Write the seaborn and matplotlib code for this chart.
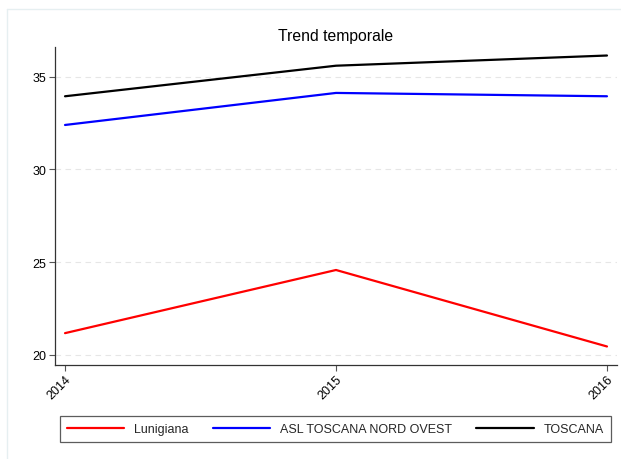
import matplotlib
matplotlib.use("Agg")
import matplotlib.pyplot as plt
from matplotlib.lines import Line2D
import seaborn as sns
import pandas as pd

years = [2014, 2015, 2016]
lunigiana = [21.16, 24.57, 20.44]
asl_nord_ovest = [32.40, 34.13, 33.95]
toscana = [33.95, 35.60, 36.15]
series_names = ["Lunigiana", "ASL TOSCANA NORD OVEST", "TOSCANA"]
series_colors = ["#ff0000", "#0000ff", "#000000"]
y_ticks = [20, 25, 30, 35]
title = "Trend temporale"

df = pd.DataFrame({
    "anno": years * 3,
    "valore": lunigiana + asl_nord_ovest + toscana,
    "serie": [series_names[0]] * 3 + [series_names[1]] * 3 + [series_names[2]] * 3,
})

sns.set_theme(style="white")
plt.rcParams["font.family"] = ["Liberation Sans", "DejaVu Sans"]

fig = plt.figure(figsize=(6.21, 4.60), dpi=100)
fig.patch.set_facecolor("white")
# light outer frame (left and top edges only visible in the reference)
fx, fy = 7 / 621, 1 - 10 / 460
fig.lines.append(Line2D([fx, fx], [0, fy], transform=fig.transFigure,
                        color="#e6eff1", linewidth=1.0, zorder=0))
fig.lines.append(Line2D([fx, 1], [fy, fy], transform=fig.transFigure,
                        color="#e6eff1", linewidth=1.0, zorder=0))

ax = fig.add_axes([55 / 621, 1 - 366 / 460, (617 - 55) / 621, (366 - 48) / 460])

sns.lineplot(data=df, x="anno", y="valore", hue="serie", hue_order=series_names,
             palette=series_colors, linewidth=1.6, ax=ax, legend=True)

ax.set_xlim(2013.963, 2016.037)
ax.set_ylim(19.44, 36.61)
ax.set_xticks(years)
ax.set_xticklabels([str(y) for y in years], rotation=45, ha="right",
                   rotation_mode="anchor", fontsize=9)
ax.set_yticks(y_ticks)
ax.set_yticklabels([str(v) for v in y_ticks], fontsize=9)
ax.set_xlabel("")
ax.set_ylabel("")
ax.set_title(title, fontsize=11.3, pad=5, color="black")

for s in ["top", "right"]:
    ax.spines[s].set_visible(False)
for s in ["left", "bottom"]:
    ax.spines[s].set_color("#333333")
    ax.spines[s].set_linewidth(0.9)

ax.tick_params(axis="both", which="major", direction="out", length=4, width=0.8,
               color="#555555", labelcolor="black", pad=2, left=True, bottom=True)
ax.yaxis.grid(True, linestyle=(0, (5, 4)), color="#e6e6e6", linewidth=0.8)
ax.xaxis.grid(False)
ax.set_axisbelow(True)

handles, labels = ax.get_legend_handles_labels()
ax.get_legend().remove()
leg = fig.legend(handles, labels, loc="lower left",
                 bbox_to_anchor=(60 / 621, 1 - 443 / 460, (611 - 60) / 621, 30 / 460),
                 mode="expand", ncol=3, fontsize=9, frameon=True, fancybox=False,
                 handlelength=4.6, handletextpad=0.8, borderpad=0.55,
                 borderaxespad=0)
leg.get_frame().set_edgecolor("#333333")
leg.get_frame().set_linewidth(0.9)
for line in leg.get_lines():
    line.set_linewidth(1.6)

fig.savefig("out.png", dpi=100)
